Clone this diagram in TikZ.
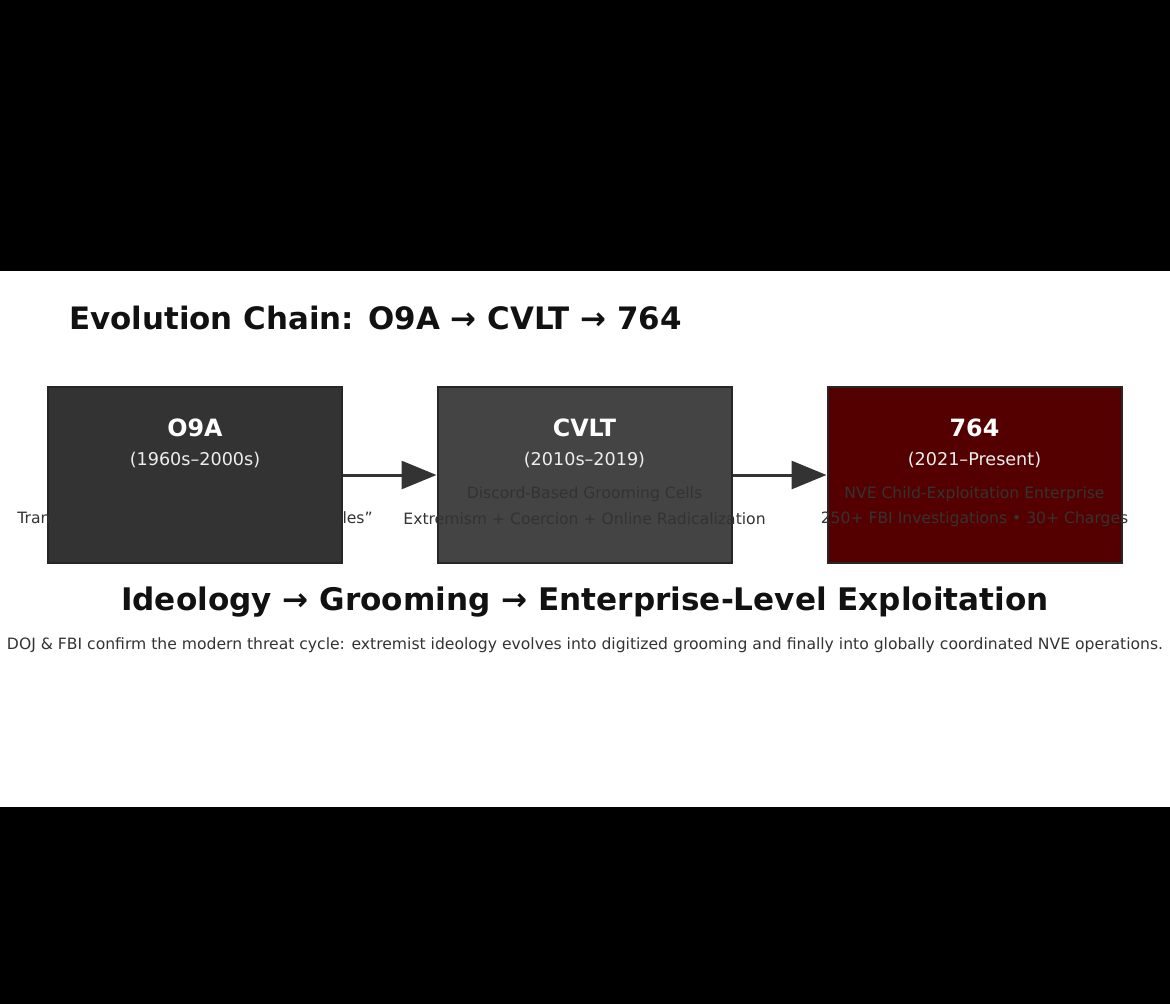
\documentclass[tikz,border=0pt]{standalone}
\usepackage{fontspec}
\setmainfont{DejaVu Sans}
\usetikzlibrary{arrows.meta}
\definecolor{boxA}{HTML}{333333}
\definecolor{boxB}{HTML}{444444}
\definecolor{boxC}{HTML}{550000}
\definecolor{txt}{HTML}{333333}
\definecolor{ttl}{HTML}{111111}
\definecolor{datec}{HTML}{EEEEEE}
\tikzset{
  stagebox/.style={draw=black!85, line width=2pt, minimum width=294pt, minimum height=176pt, inner sep=0pt},
  stagename/.style={text=white, font=\fontsize{23.8}{28}\selectfont\bfseries, inner sep=0pt},
  stagedate/.style={text=datec, font=\fontsize{17.6}{21}\selectfont, inner sep=0pt},
  stageinfo/.style={text=txt, font=\fontsize{15.6}{18}\selectfont, inner sep=0pt},
  flow/.style={draw=txt, line width=3pt, -{Triangle[length=35pt,width=28pt]}, shorten >=0pt},
}
\begin{document}
\begin{tikzpicture}[x=1pt,y=-1pt]
\fill[black] (0,0) rectangle (1170,1004);
\fill[white] (0,271) rectangle (1170,807);
\useasboundingbox (0,0) rectangle (1170,1004);

\node[anchor=base west, text=ttl, inner sep=0pt, font=\fontsize{30.9}{36}\selectfont\bfseries] (title) at (69,329) {Evolution Chain: O9A → CVLT → 764};

\node[stagebox, fill=boxA] (a) at (195,475) {};
\node[stagebox, fill=boxB] (b) at (584.5,475) {};
\node[stagebox, fill=boxC] (c) at (974.5,475) {};

\draw[flow] (a.east) -- (b.west);
\draw[flow] (b.east) -- (c.west);

\node[stagename] (an) at (195,428) {O9A};
\node[stagedate] (ad) at (195,460) {(1960s–2000s)};
\node[stageinfo] (ai2) at (195,519) {Transgressive Satanism + Evil “Insight Roles”};

\node[stagename] (bn) at (584.5,428) {CVLT};
\node[stagedate] (bd) at (584.5,460) {(2010s–2019)};
\node[stageinfo] (bi1) at (584.5,494) {Discord-Based Grooming Cells};
\node[stageinfo] (bi2) at (584.5,519) {Extremism + Coercion + Online Radicalization};

\node[stagename] (cn) at (974.5,428) {764};
\node[stagedate] (cd) at (974.5,460) {(2021–Present)};
\node[stageinfo] (ci1) at (974.5,494) {NVE Child-Exploitation Enterprise};
\node[stageinfo] (ci2) at (974.5,519) {250+ FBI Investigations • 30+ Charges};

\node[text=ttl, inner sep=0pt, font=\fontsize{31.1}{37}\selectfont\bfseries] (sub) at (585,602) {Ideology → Grooming → Enterprise-Level Exploitation};
\node[text=txt, inner sep=0pt, font=\fontsize{15.6}{18}\selectfont] (foot) at (585,645) {DOJ \& FBI confirm the modern threat cycle: extremist ideology evolves into digitized grooming and finally into globally coordinated NVE operations.};
\end{tikzpicture}
\end{document}
